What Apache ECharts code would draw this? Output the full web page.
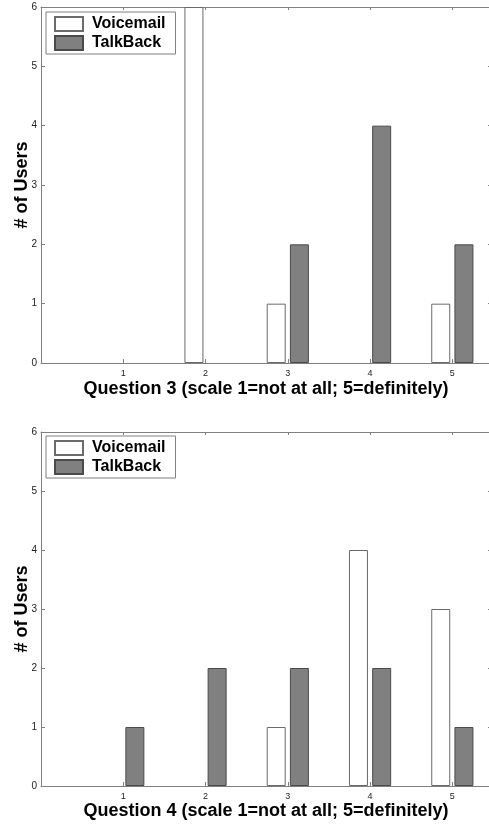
<!DOCTYPE html>
<html>
<head>
<meta charset="utf-8">
<script src="https://cdn.jsdelivr.net/npm/echarts@6/dist/echarts.min.js"></script>
<style>
html,body{margin:0;padding:0;background:#fff;}
#chart{width:489px;height:824px;}
</style>
</head>
<body>
<div id="chart"></div>
<script>
// ---- data ----
var categories = [1, 2, 3, 4, 5];
var seriesNames = ['Voicemail', 'TalkBack'];
var q3Voicemail = [0, 6, 1, 0, 1];
var q3TalkBack  = [0, 0, 2, 4, 2];
var q4Voicemail = [0, 0, 1, 4, 3];
var q4TalkBack  = [1, 2, 2, 2, 1];
var yTicks = [0, 1, 2, 3, 4, 5, 6];
var xTitles = ['Question 3 (scale 1=not at all; 5=definitely)', 'Question 4 (scale 1=not at all; 5=definitely)'];
var yTitle = '# of Users';

// zero-height bars are not drawn (as in the original figure)
function pairs(vals){ return categories.map(function(c,i){ return [c, vals[i] === 0 ? null : vals[i]]; }); }

var FONT = '"Liberation Sans", Arial, sans-serif';
var AXIS = '#808080';
var XMAX = 5.47;

function xAxes(gridIndex, title, nameGap){
  return [{
    gridIndex: gridIndex, type: 'value', position: 'bottom', min: 0, max: XMAX, interval: 1,
    axisLine: {show: true, onZero: false, lineStyle: {color: AXIS, width: 1}},
    axisTick: {show: true, inside: true, length: 4, customValues: categories, lineStyle: {color: AXIS}},
    axisLabel: {show: true, customValues: categories, color: '#222', fontSize: 9, fontFamily: FONT, margin: 6},
    splitLine: {show: false},
    name: title, nameLocation: 'middle', nameGap: nameGap,
    nameTextStyle: {color: '#000', fontSize: 18, fontWeight: 'bold', fontFamily: FONT}
  }, {
    gridIndex: gridIndex, type: 'value', position: 'top', min: 0, max: XMAX, interval: 1,
    axisLine: {show: true, onZero: false, lineStyle: {color: AXIS, width: 1}},
    axisTick: {show: true, inside: true, length: 3, customValues: categories, lineStyle: {color: AXIS}},
    axisLabel: {show: false},
    splitLine: {show: false}
  }];
}
function yAxes(gridIndex){
  return [{
    gridIndex: gridIndex, type: 'value', position: 'left', min: 0, max: 6, interval: 1,
    axisLine: {show: true, onZero: false, lineStyle: {color: AXIS, width: 1}},
    axisTick: {show: true, inside: true, length: 4, lineStyle: {color: AXIS}},
    axisLabel: {show: true, color: '#222', fontSize: 10, fontFamily: FONT, margin: 4},
    splitLine: {show: false},
    name: yTitle, nameLocation: 'middle', nameGap: 10, nameRotate: 90, nameMoveOverlap: false,
    nameTextStyle: {color: '#000', fontSize: 18, fontWeight: 'bold', fontFamily: FONT}
  }, {
    gridIndex: gridIndex, type: 'value', position: 'right', min: 0, max: 6, interval: 1,
    axisLine: {show: true, onZero: false, lineStyle: {color: AXIS, width: 1}},
    axisTick: {show: true, inside: true, length: 3, lineStyle: {color: AXIS}},
    axisLabel: {show: false},
    splitLine: {show: false}
  }];
}

var vmStyle = {color: '#ffffff', borderColor: '#6a6a6a', borderWidth: 1};
var tbStyle = {color: '#808080', borderColor: '#4a4a4a', borderWidth: 1};

function bars(xi, yi, name, vals, style){
  return {
    type: 'bar', name: name, xAxisIndex: xi, yAxisIndex: yi,
    data: pairs(vals), barWidth: 19, barGap: '22%',
    itemStyle: style, silent: true, animation: false
  };
}
function legend(top){
  return {
    orient: 'vertical', left: 46, top: top, itemWidth: 28, itemHeight: 14, itemGap: 3,
    padding: [4, 10, 3, 8], borderColor: AXIS, borderWidth: 1, backgroundColor: '#fff',
    icon: 'rect', selectedMode: false,
    textStyle: {color: '#000', fontSize: 16, fontWeight: 'bold', fontFamily: FONT, lineHeight: 16, padding: [0,0,0,4]},
    data: seriesNames
  };
}

var chart = echarts.init(document.getElementById('chart'), null, {renderer: 'canvas'});
chart.setOption({
  animation: false,
  backgroundColor: '#ffffff',
  grid: [
    {left: 41, top: 7, width: 450, height: 356, containLabel: false, outerBoundsMode: 'none'},
    {left: 41, top: 432, width: 450, height: 354, containLabel: false, outerBoundsMode: 'none'}
  ],
  legend: [legend(12), legend(436)],
  xAxis: xAxes(0, xTitles[0], 17).concat(xAxes(1, xTitles[1], 10)),
  yAxis: yAxes(0).concat(yAxes(1)),
  series: [
    bars(0, 0, seriesNames[0], q3Voicemail, vmStyle),
    bars(0, 0, seriesNames[1], q3TalkBack, tbStyle),
    bars(2, 2, seriesNames[0], q4Voicemail, vmStyle),
    bars(2, 2, seriesNames[1], q4TalkBack, tbStyle)
  ]
});
</script>
</body>
</html>
